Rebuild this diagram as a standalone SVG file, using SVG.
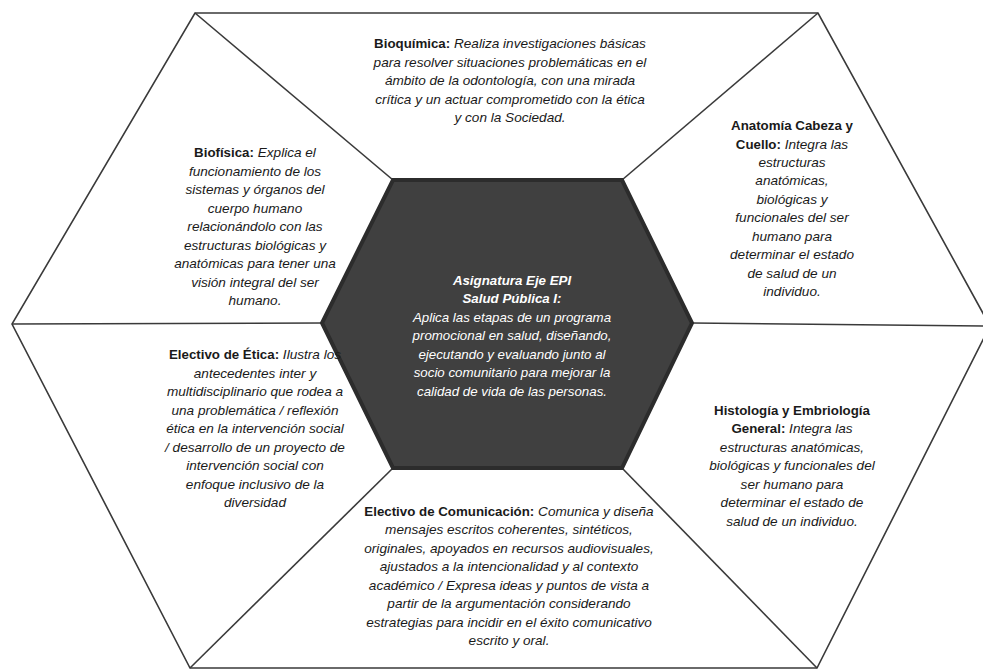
<svg xmlns="http://www.w3.org/2000/svg" width="983" height="669" viewBox="0 0 983 669">
<style>
.t{font-family:"Liberation Sans",Arial,sans-serif;font-size:13.6px;fill:#1a1a1a;text-anchor:middle;font-style:italic}
.b{font-weight:bold;font-style:normal;font-size:13.3px}
.w{font-family:"Liberation Sans",Arial,sans-serif;font-size:13.3px;fill:#ffffff;text-anchor:middle;font-style:italic}
.wb{font-weight:bold}
.ln{stroke:#3a3a3a;stroke-width:1.6;fill:none}
</style>
<rect width="983" height="669" fill="#ffffff"/>
<g id="outer">
<polygon class="ln" points="195,13 818,13 990,326 817,668 190,668 12,324"/>
</g>
<g id="connectors">
<line class="ln" x1="393" y1="180" x2="195" y2="13"/>
<line class="ln" x1="622" y1="180" x2="818" y2="13"/>
<line class="ln" x1="692" y1="323" x2="990" y2="326" stroke-width="2"/>
<line class="ln" x1="622" y1="468" x2="817" y2="668"/>
<line class="ln" x1="393" y1="468" x2="190" y2="668"/>
<line class="ln" x1="322" y1="323" x2="12" y2="324" stroke-width="2"/>
</g>
<g id="center">
<polygon points="393,180 622,180 692,323 622,468 393,468 322,323" fill="#404040" stroke="#2c2c2c" stroke-width="4" stroke-linejoin="miter"/>
<text class="w" x="512" y="285"><tspan class="wb">Asignatura Eje EPI</tspan></text>
<text class="w" x="512" y="303"><tspan class="wb">Salud Pública I:</tspan></text>
<text class="w" x="512" y="322">Aplica las etapas de un programa</text>
<text class="w" x="512" y="340">promocional en salud, diseñando,</text>
<text class="w" x="512" y="359">ejecutando y evaluando junto al</text>
<text class="w" x="512" y="377">socio comunitario para mejorar la</text>
<text class="w" x="512" y="396">calidad de vida de las personas.</text>
</g>
<g id="bioquimica">
<text class="t" x="510" y="48"><tspan class="b">Bioquímica:</tspan> Realiza investigaciones básicas</text>
<text class="t" x="510" y="67">para resolver situaciones problemáticas en el</text>
<text class="t" x="510" y="85">ámbito de la odontología, con una mirada</text>
<text class="t" x="510" y="104">crítica y un actuar comprometido con la ética</text>
<text class="t" x="510" y="122">y con la Sociedad.</text>
</g>
<g id="anatomia">
<text class="t" x="792" y="130"><tspan class="b">Anatomía Cabeza y</tspan></text>
<text class="t" x="792" y="149"><tspan class="b">Cuello:</tspan> Integra las</text>
<text class="t" x="792" y="167">estructuras</text>
<text class="t" x="792" y="185">anatómicas,</text>
<text class="t" x="792" y="204">biológicas y</text>
<text class="t" x="792" y="222">funcionales del ser</text>
<text class="t" x="792" y="241">humano para</text>
<text class="t" x="792" y="259">determinar el estado</text>
<text class="t" x="792" y="278">de salud de un</text>
<text class="t" x="792" y="296">individuo.</text>
</g>
<g id="biofisica">
<text class="t" x="255" y="157"><tspan class="b">Biofísica:</tspan> Explica el</text>
<text class="t" x="255" y="176">funcionamiento de los</text>
<text class="t" x="255" y="194">sistemas y órganos del</text>
<text class="t" x="255" y="213">cuerpo humano</text>
<text class="t" x="255" y="231">relacionándolo con las</text>
<text class="t" x="255" y="250">estructuras biológicas y</text>
<text class="t" x="255" y="268">anatómicas para tener una</text>
<text class="t" x="255" y="287">visión integral del ser</text>
<text class="t" x="255" y="305">humano.</text>
</g>
<g id="etica">
<text class="t" x="255" y="359"><tspan class="b">Electivo de Ética:</tspan> Ilustra los</text>
<text class="t" x="255" y="378">antecedentes inter y</text>
<text class="t" x="255" y="396">multidisciplinario que rodea a</text>
<text class="t" x="255" y="415">una problemática / reflexión</text>
<text class="t" x="255" y="433">ética en la intervención social</text>
<text class="t" x="255" y="452">/ desarrollo de un proyecto de</text>
<text class="t" x="255" y="470">intervención social con</text>
<text class="t" x="255" y="489">enfoque inclusivo de la</text>
<text class="t" x="255" y="507">diversidad</text>
</g>
<g id="histologia">
<text class="t" x="792" y="415"><tspan class="b">Histología y Embriología</tspan></text>
<text class="t" x="792" y="433"><tspan class="b">General:</tspan> Integra las</text>
<text class="t" x="792" y="452">estructuras anatómicas,</text>
<text class="t" x="792" y="470">biológicas y funcionales del</text>
<text class="t" x="792" y="489">ser humano para</text>
<text class="t" x="792" y="507">determinar el estado de</text>
<text class="t" x="792" y="526">salud de un individuo.</text>
</g>
<g id="comunicacion">
<text class="t" x="509" y="516"><tspan class="b">Electivo de Comunicación:</tspan> Comunica y diseña</text>
<text class="t" x="509" y="534">mensajes escritos coherentes, sintéticos,</text>
<text class="t" x="509" y="553">originales, apoyados en recursos audiovisuales,</text>
<text class="t" x="509" y="571">ajustados a la intencionalidad y al contexto</text>
<text class="t" x="509" y="590">académico / Expresa ideas y puntos de vista a</text>
<text class="t" x="509" y="608">partir de la argumentación considerando</text>
<text class="t" x="509" y="627">estrategias para incidir en el éxito comunicativo</text>
<text class="t" x="509" y="645">escrito y oral.</text>
</g>
</svg>
